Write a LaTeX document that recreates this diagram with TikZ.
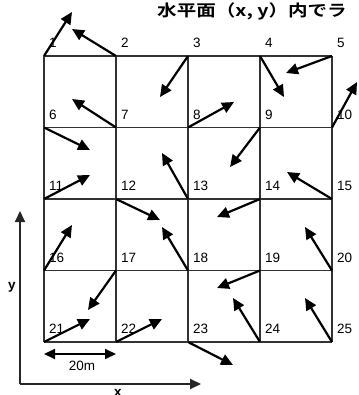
\documentclass[tikz,border=0pt]{standalone}
\usepackage{fontspec}
\setmainfont{Liberation Sans}
\newfontfamily\cjk{Noto Sans CJK JP}[BoldFont={Noto Sans CJK JP Bold}]
\usetikzlibrary{arrows.meta}
\begin{document}
\begin{tikzpicture}[x=1pt,y=-1pt,
  gridline/.style={draw=black!80,line width=1.6pt},
  vec/.style={draw=black,line width=2.2pt,-{Triangle[length=12pt,width=11pt]}},
  axis/.style={draw=black!85,line width=2pt,-{Triangle[length=11pt,width=10pt]}},
  dim/.style={draw=black,line width=2pt,{Triangle[length=11pt,width=10pt]}-{Triangle[length=11pt,width=10pt]}},
  numlab/.style={anchor=south west,inner sep=0pt,font=\fontsize{13.5}{13.5}\selectfont},
  txt/.style={inner sep=0pt,font=\fontsize{13.5}{13.5}\selectfont\bfseries}]
\useasboundingbox (0,0) rectangle (358,395);
% grid points
\foreach \r in {0,...,4}{
  \foreach \c in {0,...,4}{
    \pgfmathtruncatemacro\n{\r*5+\c+1}
    \coordinate (p\n) at ({44+72*\c},{56+71.5*\r});
  }
}
% grid lines
\foreach \r in {0,...,4}{
  \pgfmathtruncatemacro\a{\r*5+1}
  \pgfmathtruncatemacro\b{\r*5+5}
  \draw[gridline] (p\a) -- (p\b);
}
\foreach \c in {1,...,5}{
  \pgfmathtruncatemacro\b{\c+20}
  \draw[gridline] (p\c) -- (p\b);
}
% labels
\foreach \n in {1,...,25}{
  \node[numlab] (l\n) at ([shift={(5,-8)}]p\n) {\n};
}
% arrow tips
\coordinate (t1) at (72,12);
\coordinate (t2) at (72,29);
\coordinate (t3) at (160,97);
\coordinate (t4) at (284,97);
\coordinate (t5) at (286,73);
\coordinate (t6) at (90,150);
\coordinate (t7) at (72,99);
\coordinate (t8) at (234,102);
\coordinate (t9) at (230,167);
\coordinate (t10) at (357,82);
\coordinate (t11) at (90,175);
\coordinate (t12) at (160,220);
\coordinate (t13) at (162,153);
\coordinate (t14) at (217,217);
\coordinate (t15) at (287,172);
\coordinate (t16) at (72,225);
\coordinate (t17) at (88,310);
\coordinate (t18) at (162,227);
\coordinate (t19) at (217,288);
\coordinate (t20) at (305,227);
\coordinate (t21) at (90,319);
\coordinate (t22) at (162,319);
\coordinate (t23) at (233,365);
\coordinate (t24) at (233,298);
\coordinate (t25) at (305,298);
\foreach \n in {1,...,25}{
  \draw[vec] (p\n) -- (t\n);
}
% axes
\coordinate (o) at (20,384);
\coordinate (ytip) at (20,211);
\coordinate (xtip) at (201,384);
\draw[axis] (o) -- (ytip);
\draw[axis] (o) -- (xtip);
\node[txt] (ylab) at (12,287) {y};
\node[txt,anchor=north] (xlab) at (118,389) {x};
% dimension
\coordinate (d1) at (44,354);
\coordinate (d2) at (116,354);
\draw[dim] (d1) -- (d2);
\node[txt,font=\fontsize{13.5}{13.5}\selectfont] (dl) at (82,366) {20m};
% title
\node[anchor=west,inner sep=0pt,xscale=1.22,font=\cjk\bfseries\fontsize{16}{16}\selectfont] (title) at (157,11) {水平面（x, y）内でラ};
\end{tikzpicture}
\end{document}
